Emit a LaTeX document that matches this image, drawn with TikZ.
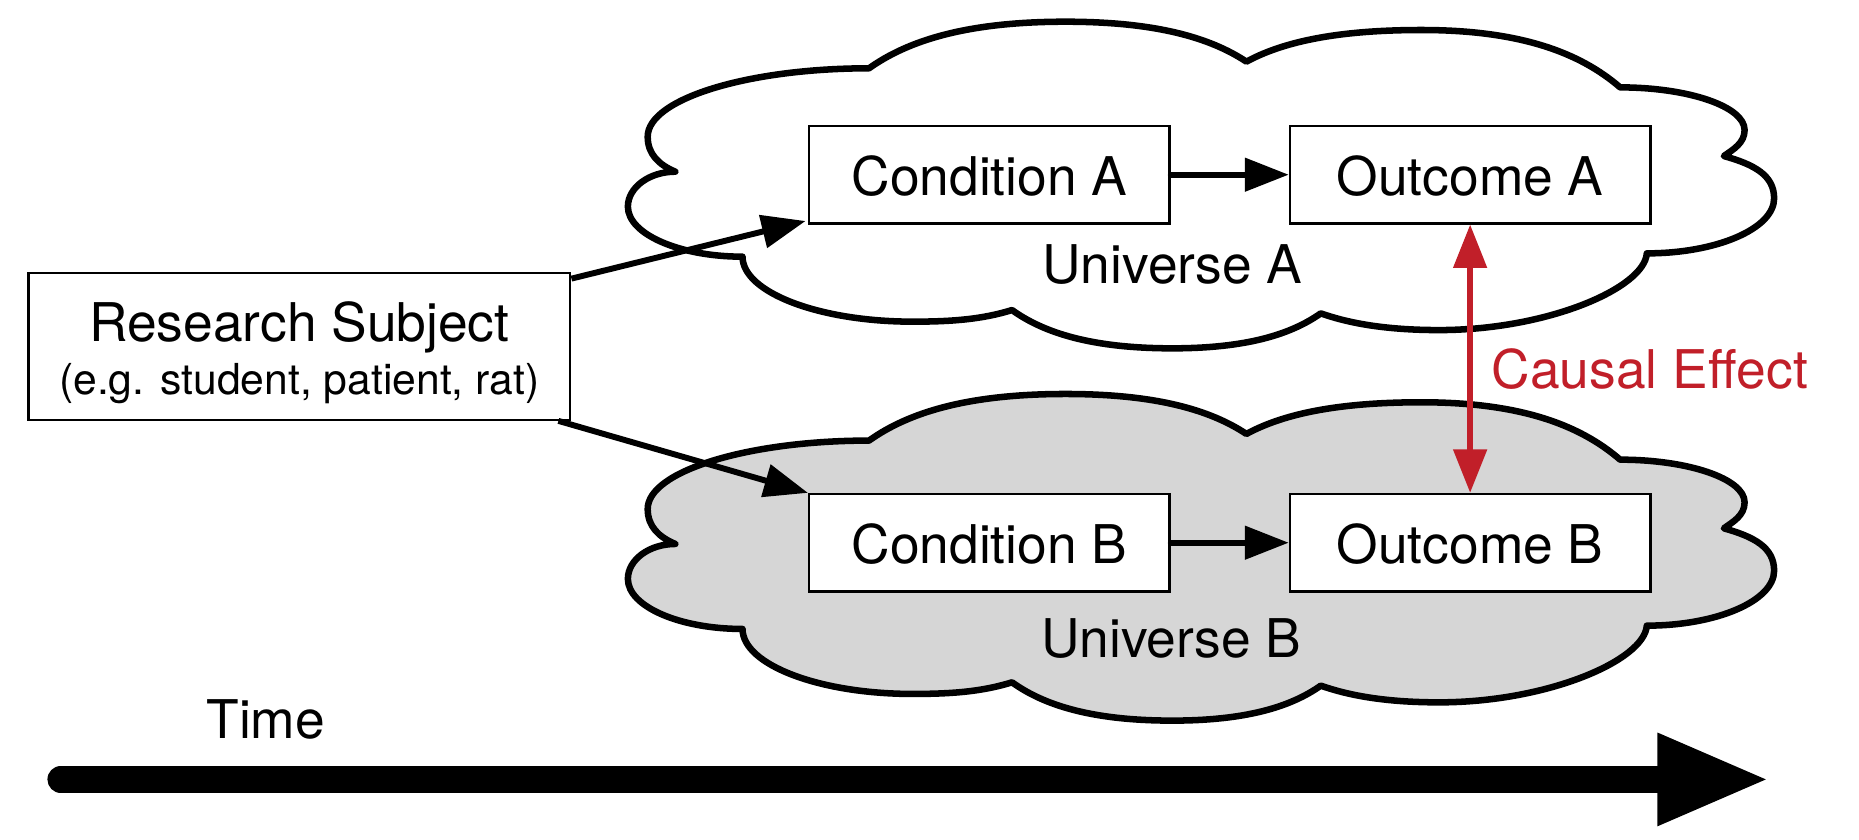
\documentclass[tikz,border=0pt]{standalone}
\usepackage{fontspec}
\setmainfont{TeX Gyre Heros}
\usetikzlibrary{arrows.meta}
\definecolor{causalred}{HTML}{C11F29}
\definecolor{cloudgray}{HTML}{D6D6D6}
\newcommand\cloudoutline{%
(569.6,144.8)
.. controls (555.6,138.9) and (546.3,130) .. (546.3,115.3)
.. controls (546.3,83.6) and (630.3,57.6) .. (733,57.6)
.. controls (766.1,34.0) and (815.9,18.3) .. (898.7,18.3)
.. controls (975,18.3) and (1020.8,31.8) .. (1051.3,52)
.. controls (1080.8,36) and (1125.2,25.3) .. (1199,25.3)
.. controls (1282.8,25.3) and (1333,44.7) .. (1366.5,73.7)
.. controls (1424.3,73.7) and (1471.5,89.9) .. (1471.5,109.7)
.. controls (1471.5,120.6) and (1462,126) .. (1454,131.6)
.. controls (1479.4,138.7) and (1496.4,147.7) .. (1496.4,167.3)
.. controls (1496.4,192.8) and (1448,213.7) .. (1389,213.7)
.. controls (1387,243) and (1305,278.4) .. (1213.8,278.4)
.. controls (1163.9,278.4) and (1134,271.3) .. (1114,264.3)
.. controls (1089,282) and (1051.4,293.8) .. (988.8,293.8)
.. controls (921.2,293.8) and (880.6,280.9) .. (853.6,261.5)
.. controls (828.4,269.3) and (803.3,271.3) .. (769.7,271.3)
.. controls (690.8,271.3) and (626.3,246.6) .. (626.3,216.5)
.. controls (573.1,216.5) and (529.6,197.5) .. (529.6,174.3)
.. controls (529.6,158.1) and (547.6,144.8) .. (569.6,144.8) -- cycle}
\tikzset{
  bigtext/.style={font=\fontsize{45pt}{54pt}\selectfont},
  smalltext/.style={font=\fontsize{36pt}{43pt}\selectfont},
  box/.style={draw=black, line width=2pt, fill=white, inner sep=0pt,
    minimum width=304pt, text height=58.2pt, text depth=23.9pt,
    anchor=base, bigtext},
  label/.style={inner sep=0pt, anchor=base, bigtext},
  cloudline/.style={draw=black, line width=5.5pt, line join=round},
  conn/.style={draw=black, line width=5pt,
    -{Triangle[length=37pt,width=27.5pt]}},
  redarrow/.style={draw=causalred, line width=4.8pt,
    {Triangle[length=36.6pt,width=27.6pt]}-{Triangle[length=36.6pt,width=27.6pt]}},
  timearrow/.style={draw=black, line width=22.5pt, line cap=round,
    -{Triangle[length=95pt,width=71.6pt]}}
}
\begin{document}
\begin{tikzpicture}[x=1pt,y=-1pt]
\useasboundingbox[fill=white] (0,0) rectangle (1568,707.7);
% clouds
\path[cloudline, fill=white] \cloudoutline;
\begin{scope}[shift={(0,314)}]
\path[cloudline, fill=cloudgray] \cloudoutline;
\end{scope}
% boxes
\node[box, minimum width=457pt, text height=58pt, text depth=66pt] (rs) at (252.5,288) {Research Subject};
\node[label, smalltext] (rs2) at (252.5,333) {(e.g. student, patient, rat)};
\node[box] (condA) at (834.5,164.5) {Condition A};
\node[box] (outA) at (1240,164.5) {Outcome A};
\node[box] (condB) at (834.5,474.9) {Condition B};
\node[box] (outB) at (1240,474.9) {Outcome B};
% texts
\node[label] (uniA) at (989,239.5) {Universe A};
\node[label] (uniB) at (988,554.5) {Universe B};
\node[label, anchor=base west, text=causalred] (ce) at (1258,327.6) {Causal Effect};
\node[label, anchor=base west] (time) at (174,622.8) {Time};
% connectors
\draw[conn] ([yshift=-6pt]rs.north east) -- ([xshift=-2pt,yshift=3pt]condA.south west);
\draw[conn] ([xshift=-11pt]rs.south east) -- (condB.north west);
\draw[conn, line cap=round] (condA.east) -- (outA.west);
\draw[conn, line cap=round] (condB.east) -- (outB.west);
\draw[redarrow] (outA.south) -- (outB.north);
% time axis
\coordinate (t0) at (51.25,657.4);
\coordinate (t1) at (1493,657.4);
\draw[timearrow] (t0) -- (t1);
\end{tikzpicture}
\end{document}
